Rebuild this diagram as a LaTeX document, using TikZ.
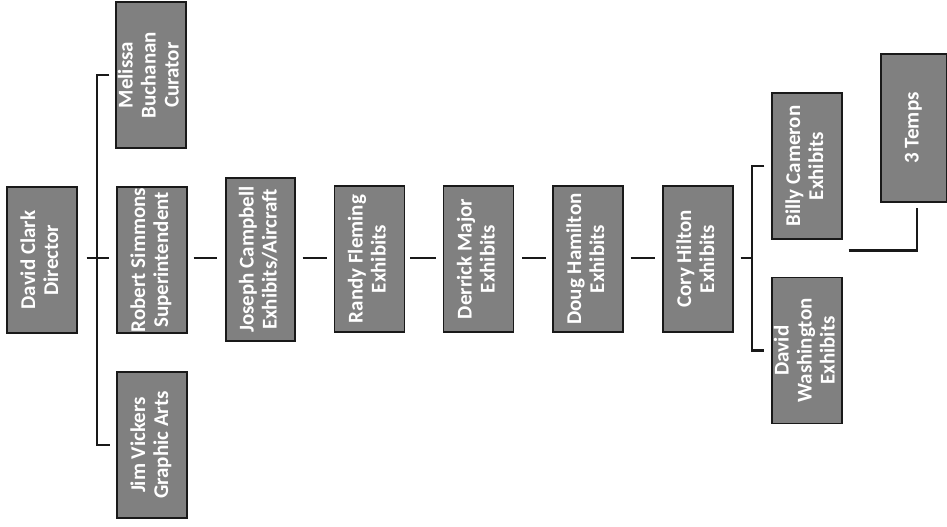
\documentclass[tikz,border=0pt]{standalone}
\usepackage{fontspec}
\setmainfont{Carlito}
\usepackage{graphicx}

\newcommand{\vtext}[1]{\rotatebox{90}{\fontsize{21}{23}\selectfont\bfseries\begin{tabular}{@{}c@{}}#1\end{tabular}}}

\definecolor{boxgray}{RGB}{128,128,128}

\tikzset{
    staff/.style={draw=black!90, line width=1.3pt, fill=boxgray, text=white, inner sep=0pt,
        minimum width=70pt, minimum height=146pt},
    link/.style={line width=2.4pt, black!90}
}

\begin{document}
\begin{tikzpicture}[x=1pt, y=-1pt]
    \useasboundingbox (0,0) rectangle (947,527);

    % Director and direct reports
    \node[staff] (david) at (42,260) {\vtext{David Clark\\Director}};
    \node[staff] (melissa) at (151,75) {\vtext{Melissa\\Buchanan\\Curator}};
    \node[staff] (robert) at (152,260) {\vtext{Robert Simmons\\Superintendent}};
    \node[staff] (jim) at (152,445) {\vtext{Jim Vickers\\Graphic Arts}};

    % Chain of exhibits staff
    \node[staff, minimum height=163pt, minimum width=69pt] (joseph) at (260.5,259.5) {\vtext{Joseph Campbell\\Exhibits/Aircraft}};
    \node[staff] (randy) at (369.5,259) {\vtext{Randy Fleming\\Exhibits}};
    \node[staff] (derrick) at (478.5,259) {\vtext{Derrick Major\\Exhibits}};
    \node[staff] (doug) at (588,259) {\vtext{Doug Hamilton\\Exhibits}};
    \node[staff] (cory) at (698,259) {\vtext{Cory Hilton\\Exhibits}};

    % Reports of Cory Hilton
    \node[staff] (billy) at (807,166) {\vtext{Billy Cameron\\Exhibits}};
    \node[staff] (washington) at (807,350.5) {\vtext{David\\Washington\\Exhibits}};
    \node[staff, minimum width=66pt, minimum height=148pt] (temps) at (914,128) {\vtext{3 Temps}};

    % Bracket coordinates
    \coordinate (spineA) at (97,258);
    \coordinate (spineB) at (752,258);

    % Connectors
    \draw[link, shorten <=9pt, shorten >=7pt] (david.east |- spineA) -- (robert.west |- spineA);
    \draw[link, shorten <=6pt, shorten >=6pt] (melissa.west) -| (spineA) |- (jim.west);
    \draw[link, shorten <=6pt, shorten >=8pt] (robert.east |- spineA) -- (joseph.west |- spineA);
    \draw[link, shorten <=7pt, shorten >=7pt] (joseph.east |- spineA) -- (randy.west |- spineA);
    \draw[link, shorten <=5pt, shorten >=7pt] (randy.east |- spineA) -- (derrick.west |- spineA);
    \draw[link, shorten <=8pt, shorten >=6pt] (derrick.east |- spineA) -- (doug.west |- spineA);
    \draw[link, shorten <=7pt, shorten >=7pt] (doug.east |- spineA) -- (cory.west |- spineA);
    \draw[link, shorten <=7pt] (cory.east |- spineB) -- (spineB);
    \draw[link, shorten <=7pt, shorten >=7pt] (billy.west) -| (spineB) |- (washington.west);
    \draw[link, shorten <=6pt, shorten >=5pt] ([yshift=-11pt]billy.south east) -| ([xshift=3pt]temps.south);
\end{tikzpicture}
\end{document}
